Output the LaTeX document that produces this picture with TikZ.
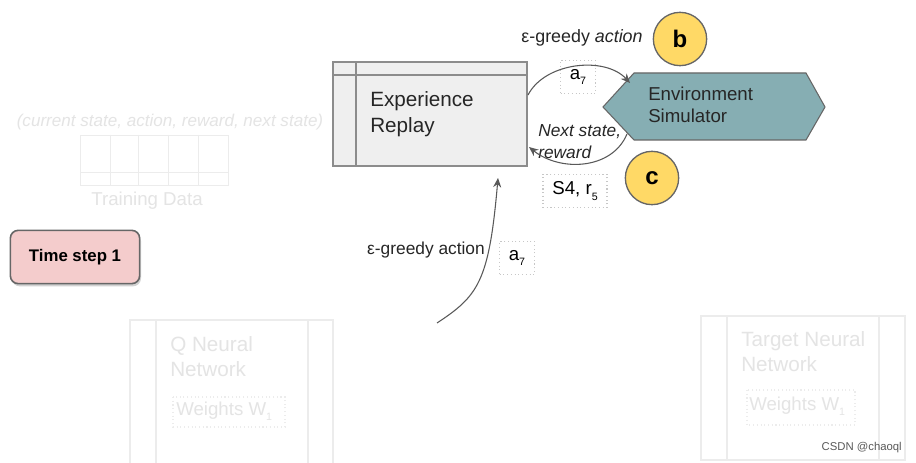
\documentclass[tikz,border=0pt]{standalone}
\usepackage{fontspec}
\setmainfont{Liberation Sans}
\usetikzlibrary{arrows.meta,shadows}
\definecolor{faint}{HTML}{ECECEC}
\definecolor{fainttext}{HTML}{E4E4E4}
\definecolor{erfill}{HTML}{EFEFEF}
\definecolor{envfill}{HTML}{86AEB3}
\definecolor{circfill}{HTML}{FFD966}
\definecolor{pinkfill}{HTML}{F4CCCC}
\definecolor{edge}{HTML}{666666}
\newcommand{\lowsub}[1]{\raisebox{-0.55ex}{\fontsize{8}{8}\selectfont #1}}
\begin{document}
\begin{tikzpicture}[x=0.75pt,y=-0.75pt,
  lbl/.style={inner sep=0pt,text=black!85},
  small/.style={inner sep=0pt,font=\fontsize{13}{15}\selectfont,text=black!85},
  ghost/.style={inner sep=0pt,font=\fontsize{14}{16}\selectfont,text=fainttext,align=left},
  dotbox/.style={draw=black!22,dotted,line width=0.8pt,minimum height=25pt,inner sep=2pt},
  ghostbox/.style={draw=faint,dotted,line width=0.8pt},
  letter/.style={circle,draw=edge,line width=1pt,fill=circfill,minimum size=40pt,inner sep=0pt,font=\fontsize{18}{18}\selectfont\bfseries},
  conn/.style={draw=black!65,line width=0.8pt,-{Stealth[length=7pt,width=6pt]}}]
\useasboundingbox (0,0) rectangle (916,463);
\fill[white] (0,0) rectangle (916,463);

% ghost training data
\node[ghost,font=\fontsize{12.8}{14}\selectfont\itshape] (tdhead) at (170,122) {(current state, action, reward, next state)};
\draw[faint,line width=0.6pt] (80,135) rectangle (228,185);
\foreach \xx in {110,138,168,198} \draw[faint,line width=0.6pt] (\xx,135) -- (\xx,185);
\draw[faint,line width=0.6pt] (80,172) -- (228,172);
\node[ghost] (tdlabel) at (147,201) {Training Data};

% time step
\node[draw=edge,line width=1.2pt,fill=pinkfill,rounded corners=6pt,minimum width=97pt,minimum height=40pt,
  font=\fontsize{12.6}{14}\selectfont\bfseries,drop shadow={opacity=0.35,shadow xshift=1pt,shadow yshift=-2pt}] (ts) at (75,257) {Time step 1};

% experience replay
\draw[draw=black!45,line width=1pt,fill=erfill] (333,62) rectangle (527,166);
\draw[black!45,line width=1pt] (333,75) -- (527,75) (356,62) -- (356,166);
\node[lbl,anchor=north west,align=left,font=\fontsize{15.5}{19.5}\selectfont] (er) at (370,91) {Experience\\Replay};
\coordinate (erout) at (528,95);
\coordinate (erin) at (529,147);
\coordinate (erbot) at (498,178);

% environment simulator
\draw[draw=edge,line width=0.8pt,fill=envfill] (603,107) -- (634,73) -- (806,73) -- (825,107) -- (806,140) -- (634,140) -- cycle;
\node[lbl,anchor=north west,align=left,font=\fontsize{14}{16.5}\selectfont] (env) at (648,87) {Environment\\Simulator};
\coordinate (envin) at (630,83);
\coordinate (envout) at (627,134);

% circles
\node[letter] (b) at (680,39) {b};
\node[letter] (c) at (652,178) {c};

% labels
\node[small,font=\fontsize{13.4}{15}\selectfont] (lab1) at (582,38) {ε-greedy \textit{action}};
\node[dotbox,minimum width=26pt,font=\fontsize{14}{15}\selectfont] (a1) at (578,77) {a\lowsub{7}};
\node[small,align=left,anchor=north west,font=\fontsize{13}{17}\selectfont\itshape] (lab2) at (538,124) {Next state,\\reward};
\node[dotbox,minimum width=48pt,font=\fontsize{14}{15}\selectfont] (s4) at (575,191) {S4, r\lowsub{5}};
\node[small] (lab3) at (426,250) {ε-greedy action};
\node[dotbox,minimum width=26pt,font=\fontsize{14}{15}\selectfont] (a2) at (517,258) {a\lowsub{7}};

% connectors
\coordinate (start3) at (437,323);
\draw[conn] (erout) .. controls (545,62) and (605,56) .. (envin);
\draw[conn] (envout) .. controls (612,170) and (560,172) .. (erin);
\draw[conn] (start3) .. controls (478,296) and (489,282) .. (erbot);

% ghost networks
\draw[faint,line width=0.8pt] (130,463) -- (130,320) -- (333,320) -- (333,463);
\draw[faint,line width=0.8pt] (156,320) -- (156,463) (308,320) -- (308,463);
\node[ghost,anchor=north west,font=\fontsize{15.5}{19}\selectfont] (qnn) at (170,336) {Q Neural\\Network};
\draw[ghostbox] (173,397) rectangle (285,427);
\node[ghost,anchor=west] (w1) at (176,411) {Weights W\lowsub{1}};

\draw[faint,line width=0.8pt] (701,460) -- (701,316) -- (905,316) -- (905,460) -- cycle;
\draw[faint,line width=0.8pt] (727,316) -- (727,460) (879,316) -- (879,460);
\node[ghost,anchor=north west,font=\fontsize{15.5}{19}\selectfont] (tnn) at (741,331) {Target Neural\\Network};
\draw[ghostbox] (747,390) rectangle (855,425);
\node[ghost,anchor=west] (w2) at (749,406) {Weights W\lowsub{1}};

\node[inner sep=0pt,font=\fontsize{8.5}{10}\selectfont,text=black!65,anchor=east] (csdn) at (902,448) {CSDN @chaoql};
\end{tikzpicture}
\end{document}
